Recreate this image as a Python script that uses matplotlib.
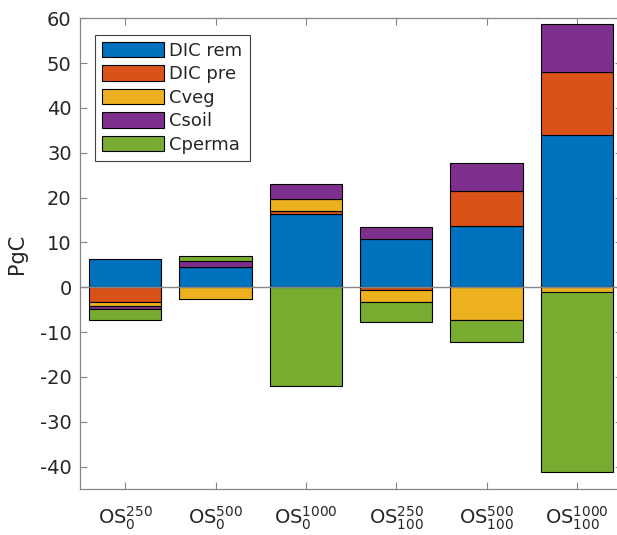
import numpy as np
import matplotlib
matplotlib.use("Agg")
import matplotlib.pyplot as plt

# Carbon change per pool (PgC) for each overshoot scenario
scenarios = [r'$\mathregular{OS_{0}^{250}}$', r'$\mathregular{OS_{0}^{500}}$', r'$\mathregular{OS_{0}^{1000}}$',
             r'$\mathregular{OS_{100}^{250}}$', r'$\mathregular{OS_{100}^{500}}$', r'$\mathregular{OS_{100}^{1000}}$']
pools = ['DIC rem', 'DIC pre', 'Cveg', 'Csoil', 'Cperma']
dic_rem = [6.2, 4.4, 16.4, 10.7, 13.6, 34.0]
dic_pre = [-3.4, 0.0, 0.6, -0.7, 7.9, 14.0]
cveg = [-0.7, -2.7, 2.7, -2.6, -7.3, -1.0]
csoil = [-0.8, 1.5, 3.4, 2.8, 6.2, 10.8]
cperma = [-2.3, 1.1, -22.1, -4.5, -5.0, -40.2]
colors = ['#0072BD', '#D95319', '#EDB120', '#7E2F8E', '#77AC30']

text_col = '#262626'
axis_col = '#858585'

fig = plt.figure(figsize=(6.17, 5.35), dpi=100)
# right edge of the axes sits just outside the figure, as in the original crop
ax = fig.add_axes([0.1297, 0.086, 0.8785, 0.880])

x = np.arange(1, len(scenarios) + 1)
pos_base = np.zeros(len(x))
neg_base = np.zeros(len(x))
for name, vals, col in zip(pools, [dic_rem, dic_pre, cveg, csoil, cperma], colors):
    vals = np.array(vals)
    base = np.where(vals >= 0, pos_base, neg_base)
    ax.bar(x, vals, width=0.8, bottom=base, color=col, edgecolor='black',
           linewidth=0.8, label=name, zorder=3)
    pos_base = pos_base + np.clip(vals, 0, None)
    neg_base = neg_base + np.clip(vals, None, 0)

ax.axhline(0, color=axis_col, linewidth=1.0, zorder=4)

ax.set_xlim(0.5, 6.5)
ax.set_ylim(-45, 60)
ax.set_xticks(x)
ax.set_xticklabels(scenarios, fontsize=14, color=text_col)
ax.set_yticks(np.arange(-40, 61, 10))
ax.set_yticklabels([str(v) for v in range(-40, 61, 10)], fontsize=14, color=text_col)
ax.set_ylabel('PgC', fontsize=15, color=text_col, labelpad=9)
ax.tick_params(direction='in', length=5, width=0.8, color=axis_col,
               top=True, right=True, labeltop=False, labelright=False)
ax.tick_params(axis='x', pad=11)
ax.tick_params(axis='y', pad=6)
for s in ax.spines.values():
    s.set_color(axis_col)
    s.set_linewidth(0.9)

leg = ax.legend(loc='upper left', bbox_to_anchor=(0.028, 0.965), borderaxespad=0,
                fontsize=13, handlelength=3.4, handleheight=0.95, labelspacing=0.3,
                borderpad=0.4, handletextpad=0.3, fancybox=False, framealpha=1)
leg.get_frame().set_edgecolor('#404040')
leg.get_frame().set_linewidth(0.8)
for t in leg.get_texts():
    t.set_color(text_col)

plt.savefig('out.png', dpi=100)
plt.close()
